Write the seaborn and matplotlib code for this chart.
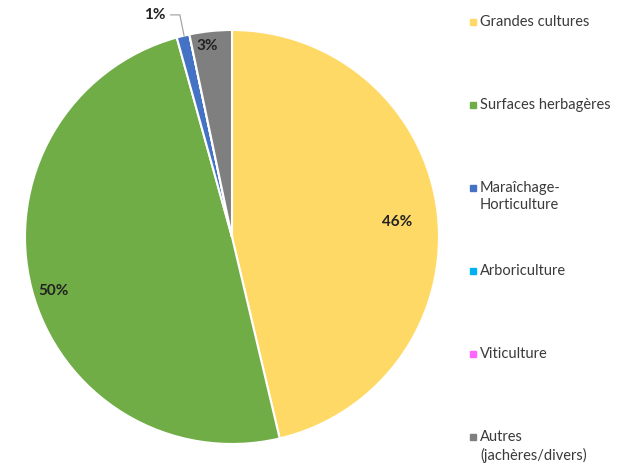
import numpy as np
import matplotlib
matplotlib.use('agg')
import matplotlib.pyplot as plt
import seaborn as sns

categories = ['Grandes cultures', 'Surfaces herbagères', 'Maraîchage-\nHorticulture',
              'Arboriculture', 'Viticulture', 'Autres\n(jachères/divers)']
shares = [46.3, 49.4, 1.0, 0.0, 0.0, 3.3]
pct_labels = ['46%', '50%', '1%', '', '', '3%']
colors = ['#FFD966', '#70AD47', '#4472C4', '#00B0F0', '#FF66FF', '#7F7F7F']

sns.set_theme(style='white')
plt.rcParams['font.family'] = ['Lato', 'DejaVu Sans']

fig = plt.figure(figsize=(6.2, 4.66), dpi=100)
ax = fig.add_axes([25 / 620, 22 / 466, 414 / 620, 414 / 466])

wedges, _ = ax.pie(shares, colors=colors, startangle=90, counterclock=False,
                   radius=1, wedgeprops=dict(edgecolor='white', linewidth=1.5))
ax.set_xlim(-1, 1)
ax.set_ylim(-1, 1)
ax.set_aspect('equal')
ax.axis('off')

# label radii per slice (Excel "best fit" placement)
radii = [0.80, 0.90, 1.13, 0, 0, 0.93]
for w, lab, r in zip(wedges, pct_labels, radii):
    if not lab:
        continue
    mid = np.deg2rad((w.theta1 + w.theta2) / 2)
    if lab == '1%':
        x, y = -0.372, 1.073
        ax.text(x, y, lab, ha='center', va='center', fontsize=11, fontweight='bold', color='#222222')
        ax.plot([x + 0.075, x + 0.12, np.cos(mid) * 1.0 + 0.005],
                [y, y, np.sin(mid) * 1.0], color='#A6A6A6', lw=0.9, clip_on=False)
    else:
        if lab == '3%':
            mid = np.deg2rad(97.5)
        elif lab == '50%':
            mid = np.deg2rad(197)
        elif lab == '46%':
            mid = np.deg2rad(5.2)
        ax.text(r * np.cos(mid), r * np.sin(mid), lab, ha='center', va='center',
                fontsize=11, fontweight='bold', color='#222222')

# legend on the right
y0, step = 22, 83
for i, (lab, c) in enumerate(zip(categories, colors)):
    yy = 1 - (y0 + i * step) / 466
    fig.patches.append(plt.Rectangle((470 / 620, yy - 3 / 466), 6 / 620, 6 / 466,
                                     transform=fig.transFigure, color=c))
    fig.text(480 / 620, yy + 7 / 466, lab, ha='left', va='top', fontsize=10.5,
             color='#3A3A3A', linespacing=1.3)

fig.savefig('out.png', dpi=100, facecolor='white')
